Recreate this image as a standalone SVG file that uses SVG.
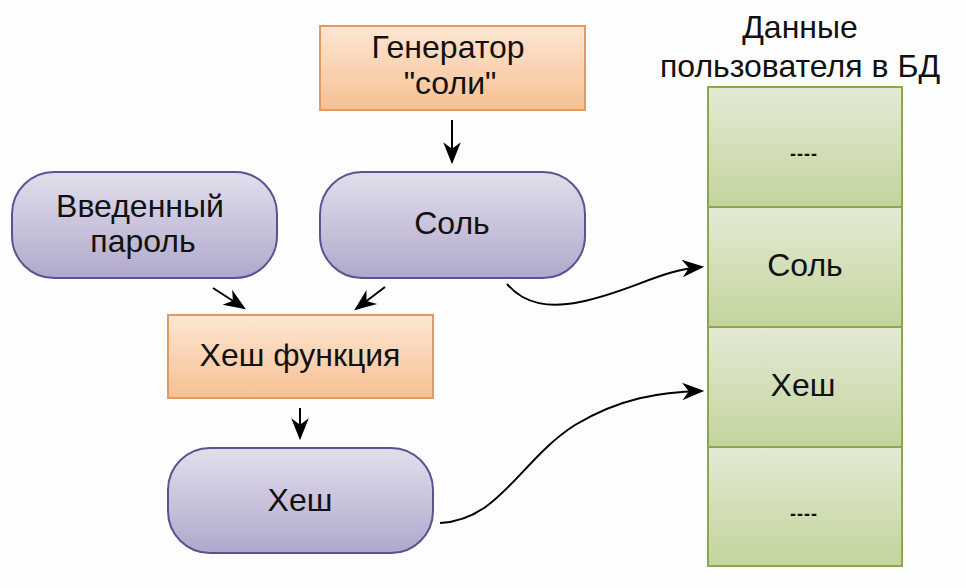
<svg xmlns="http://www.w3.org/2000/svg" width="966" height="588" viewBox="0 0 966 588">
<defs>
<linearGradient id="gO" x1="0" y1="0" x2="0" y2="1"><stop offset="0" stop-color="#fde6d3"/><stop offset="1" stop-color="#f7c092"/></linearGradient>
<linearGradient id="gP" x1="0" y1="0" x2="0" y2="1"><stop offset="0" stop-color="#e2dfec"/><stop offset="1" stop-color="#b0a8cc"/></linearGradient>
<linearGradient id="gG" x1="0" y1="0" x2="0" y2="1"><stop offset="0" stop-color="#e4ead6"/><stop offset="1" stop-color="#c3d49c"/></linearGradient>
<marker id="ahL" viewBox="0 0 10 10" refX="9" refY="5" markerWidth="22" markerHeight="22" markerUnits="userSpaceOnUse" orient="auto"><path d="M0,1 L10,5 L0,9 L3,5 Z" fill="#000"/></marker>
</defs>
<style>
.t{font-family:"Liberation Sans",Arial,sans-serif;font-size:32px;fill:#111;text-anchor:middle}
.s{font-family:"Liberation Sans",Arial,sans-serif;font-size:18px;fill:#111;text-anchor:middle;font-weight:bold;letter-spacing:1px}
.o{fill:url(#gO);stroke:#e49a5c;stroke-width:2}
.p{fill:url(#gP);stroke:#5e5192;stroke-width:2}
.g{fill:url(#gG);stroke:#8aa94a;stroke-width:2}
.c{fill:none;stroke:#000;stroke-width:2}
</style>
<rect width="966" height="588" fill="#fdfdfd"/>
<g id="gen"><rect class="o" x="320" y="26" width="265" height="84"/><text class="t" x="448" y="58">Генератор</text><text class="t" x="450" y="94">"соли"</text></g>
<g id="sol"><rect class="p" x="320" y="172" width="265" height="106" rx="42"/><text class="t" x="452" y="234">Соль</text></g>
<g id="pwd"><rect class="p" x="12" y="172" width="265" height="106" rx="42"/><text class="t" x="140" y="217">Введенный</text><text class="t" x="143" y="252">пароль</text></g>
<g id="hf"><rect class="o" x="168" y="315" width="265" height="83"/><text class="t" x="300" y="366">Хеш функция</text></g>
<g id="hash"><rect class="p" x="168" y="448" width="265" height="105" rx="42"/><text class="t" x="300" y="511">Хеш</text></g>
<g id="db">
<text class="t" x="800" y="38">Данные</text>
<text class="t" x="800" y="77">пользователя в БД</text>
<rect class="g" x="708" y="87" width="194" height="120"/>
<rect class="g" x="708" y="207" width="194" height="120"/>
<rect class="g" x="708" y="327" width="194" height="120"/>
<rect class="g" x="708" y="447" width="194" height="119"/>
<text class="s" x="804" y="160">----</text>
<text class="t" x="805" y="276">Соль</text>
<text class="t" x="803" y="396">Хеш</text>
<text class="s" x="804" y="520">----</text>
</g>
<g id="connectors">
<path class="c" d="M452,120 L452,162" marker-end="url(#ahL)"/>
<path class="c" d="M213,288 L244,308" marker-end="url(#ahL)"/>
<path class="c" d="M385,287 L356,309" marker-end="url(#ahL)"/>
<path class="c" d="M300,408 L300,438" marker-end="url(#ahL)"/>
<path class="c" d="M507,284 C525,305 550,308 580,302 C630,292 660,270 702,267" marker-end="url(#ahL)"/>
<path class="c" d="M440,523 C500,520 520,460 575,425 C620,398 660,392 702,391" marker-end="url(#ahL)"/>
</g>
</svg>
